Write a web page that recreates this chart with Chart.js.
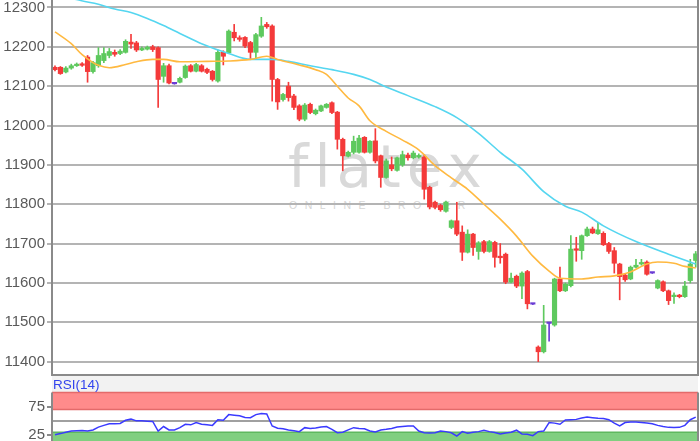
<!DOCTYPE html>
<html>
<head>
	<meta charset="utf-8">
	<script src="https://cdn.jsdelivr.net/npm/chart.js@4.4.1/dist/chart.umd.min.js"></script>
	<style>
		html, body { margin: 0; width: 700px; height: 441px; overflow: hidden; background: #fff; }
		.pane { position: absolute; left: 0; width: 700px; }
		#mainPane { top: 0; height: 377px; }
		#rsiPane { top: 376px; height: 80px; }
		#strip { position: absolute; left: 52px; top: 375px; width: 646px; height: 18px; background: #f2f2f2; }
		.wm { position: absolute; white-space: nowrap; line-height: 1; color: #d9d9d9; }
		#logo { left: 288px; top: 138px; font-family: 'DejaVu Sans'; font-size: 58px; letter-spacing: 6px; }
		#claim { left: 289px; top: 200px; font-family: 'Liberation Sans'; font-size: 10.5px; letter-spacing: 7.5px; color: #d6d6d6; }
		#rsiTitle { position: absolute; left: 53px; top: 377px; font: 13.5px 'Liberation Sans'; color: #3344ee; }
	</style>
	<title>Kursverlauf</title>
</head>

<body>
	<div id="strip"></div>
	<div class="wm" id="logo">flatex</div>
	<div class="wm" id="claim">ONLINE BROKER</div>
	<div class="pane" id="mainPane"><canvas id="mainChart"></canvas></div>
	<div class="pane" id="rsiPane"><canvas id="rsiChart"></canvas></div>
	<div id="rsiTitle">RSI(14)</div>

	<script>
		// Kerzen (Open/High/Low/Close)
		var opens = [12148, 12148, 12136, 12146, 12152, 12157, 12174, 12137, 12152, 12165, 12178, 12186, 12183, 12186, 12212, 12210, 12192, 12194, 12200, 12198,
			12125, 12152, 12106, 12110, 12122, 12152, 12138, 12152, 12143, 12138, 12113, 12186, 12185, 12237, 12223, 12224, 12211, 12186, 12227, 12257,
			12253, 12117, 12066, 12100, 12075, 12050, 12016, 12054, 12030, 12037, 12046, 12058, 12034, 11965, 11922, 11932, 11932, 11970, 11932, 11961,
			11923, 11868, 11900, 11886, 11900, 11925, 11918, 11920, 11920, 11843, 11805, 11797, 11782, 11741, 11758, 11729, 11678, 11724, 11680, 11705,
			11680, 11703, 11668, 11673, 11602, 11617, 11592, 11629, 11546, 11437, 11425, 11497, 11493, 11610, 11580, 11593, 11686, 11682, 11720, 11737,
			11725, 11726, 11700, 11682, 11648, 11620, 11610, 11640, 11648, 11653, 11625, 11587, 11603, 11580, 11565, 11569, 11565, 11606, 11657];
		var highs = [12152, 12150, 12150, 12156, 12159, 12160, 12178, 12163, 12198, 12198, 12196, 12192, 12193, 12218, 12232, 12214, 12200, 12202, 12204, 12200,
			12158, 12156, 12107, 12123, 12154, 12155, 12158, 12155, 12146, 12140, 12192, 12190, 12243, 12257, 12228, 12226, 12214, 12234, 12275, 12262,
			12256, 12120, 12082, 12110, 12079, 12053, 12056, 12057, 12042, 12052, 12056, 12060, 12036, 11968, 11935, 11973, 11975, 11972, 11962, 11992,
			11925, 11915, 11920, 11920, 11935, 11930, 11935, 11928, 11926, 11846, 11808, 11800, 11808, 11760, 11805, 11745, 11735, 11726, 11705, 11708,
			11708, 11706, 11700, 11676, 11625, 11620, 11628, 11632, 11547, 11440, 11543, 11498, 11612, 11640, 11600, 11720, 11716, 11722, 11742, 11742,
			11752, 11730, 11703, 11690, 11650, 11622, 11643, 11660, 11660, 11656, 11626, 11608, 11605, 11582, 11575, 11571, 11604, 11660, 11680];
		var lows = [12139, 12130, 12134, 12143, 12150, 12150, 12110, 12133, 12148, 12160, 12172, 12176, 12180, 12184, 12196, 12188, 12190, 12192, 12188, 12046,
			12110, 12106, 12105, 12108, 12120, 12136, 12136, 12136, 12132, 12113, 12110, 12154, 12183, 12215, 12214, 12198, 12168, 12168, 12224, 12247,
			12062, 12041, 12062, 12062, 12040, 12012, 12012, 12030, 12027, 12035, 12044, 12030, 11940, 11885, 11920, 11928, 11930, 11930, 11930, 11905,
			11843, 11866, 11885, 11884, 11896, 11912, 11915, 11917, 11813, 11788, 11788, 11782, 11780, 11738, 11720, 11657, 11676, 11670, 11660, 11676,
			11678, 11640, 11650, 11598, 11600, 11588, 11560, 11534, 11545, 11400, 11422, 11452, 11490, 11578, 11578, 11590, 11655, 11660, 11718, 11725,
			11723, 11695, 11675, 11625, 11557, 11604, 11608, 11638, 11645, 11620, 11624, 11585, 11578, 11545, 11548, 11562, 11563, 11600, 11640];
		var closes = [12142, 12132, 12146, 12152, 12156, 12153, 12137, 12160, 12178, 12183, 12188, 12181, 12189, 12214, 12207, 12192, 12196, 12199, 12193, 12117,
			12152, 12108, 12106, 12120, 12151, 12138, 12155, 12138, 12135, 12117, 12186, 12176, 12240, 12223, 12219, 12202, 12186, 12231, 12253, 12251,
			12117, 12060, 12079, 12071, 12046, 12016, 12052, 12033, 12039, 12050, 12054, 12033, 11965, 11923, 11932, 11960, 11968, 11932, 11960, 11910,
			11868, 11910, 11890, 11918, 11926, 11918, 11930, 11924, 11838, 11793, 11792, 11786, 11805, 11758, 11724, 11678, 11724, 11690, 11702, 11680,
			11705, 11665, 11664, 11602, 11612, 11592, 11625, 11547, 11546, 11425, 11493, 11497, 11610, 11580, 11597, 11686, 11683, 11720, 11737, 11727,
			11735, 11697, 11680, 11650, 11616, 11608, 11640, 11645, 11652, 11622, 11625, 11606, 11580, 11555, 11569, 11565, 11592, 11648, 11674];

		var fastIdx = [0, 3, 5, 7, 8, 10, 13, 15, 18, 20, 23, 28, 32, 36, 39, 41, 45, 48, 50, 52, 54, 56, 58, 61, 64, 67, 70, 73, 76, 79,
			82, 85, 88, 91, 93, 97, 100, 103, 106, 109, 111, 114, 116, 118];
		var fastVal = [12238, 12208, 12180, 12160, 12153, 12147, 12155, 12162, 12168, 12168, 12162, 12163, 12164, 12168, 12176, 12168, 12154, 12142, 12130, 12100,
			12070, 12050, 12012, 11985, 11963, 11938, 11898, 11867, 11838, 11800, 11762, 11719, 11668, 11630, 11612, 11610, 11615, 11618, 11628, 11648,
			11653, 11650, 11642, 11638];
		var slowIdx = [-1, 4, 8, 11, 14, 17, 20, 23, 27, 32, 36, 40, 43, 47, 51, 55, 58, 61, 65, 70, 74, 78, 82, 86, 90, 94, 97, 101, 107, 113, 118];
		var slowVal = [12345, 12320, 12308, 12296, 12287, 12272, 12254, 12234, 12208, 12183, 12168, 12168, 12163, 12152, 12142, 12130, 12117, 12098, 12076, 12048,
			12020, 11980, 11932, 11889, 11832, 11795, 11780, 11745, 11705, 11673, 11648];

		// RSI(14)
		var rsi = [25.5, 27.5, 30, 32, 32.5, 33, 32, 34, 39, 42, 45, 45, 45.5, 51, 53, 50, 50, 49.5, 49, 32,
			40, 34, 34, 38, 44, 43, 47, 44, 43, 42, 52, 51, 61, 60, 59, 56, 55.5, 61, 63, 62,
			41, 37, 36, 34, 32.5, 31, 38, 36.5, 37.5, 39, 40, 35, 29, 30, 34, 38, 36.5, 36, 32, 30.5,
			34, 35, 36.5, 39, 40, 41, 41, 32, 29, 28.5, 29, 32, 31, 29, 23, 31, 28, 30, 31, 33.5,
			31, 29.5, 27, 28.5, 30, 33.5, 27, 26.5, 23.8, 31, 32, 47, 46, 44, 51.5, 52, 52.6, 55, 56.6, 55.5,
			54.5, 54, 52, 46, 41, 47, 48, 48, 47, 46, 45, 42, 40, 38.5, 38.2, 38.5, 42, 52, 56.6];
		var rsiBandLow = [70, 0];
		var rsiBandHigh = [100, 30];
		var rsiMid = 50;

		var yTicks = [11400, 11500, 11600, 11700, 11800, 11900, 12000, 12100, 12200, 12300];
		var rsiTicks = [25, 75];

		var bandFill = ['#ff8b8b', '#80cf80'];
		var bandEdge = ['#e46a6a', '#5fb85f'];
		var tickFont = { family: "'Liberation Sans', Arial, sans-serif", size: 15 };

		var candleCol = opens.map(function (o, i) {
			if (closes[i] > o) return '#5ec95e';
			if (closes[i] < o) return '#f43a3a';
			return '#6a3cd4';
		});

		var xMin = -0.55, xMax = 118.42;

		// Rahmen um die Zeichenfläche
		var frame = {
			id: 'frame',
			afterDatasetsDraw: function (chart) {
				var a = chart.chartArea, c = chart.ctx;
				c.save();
				c.strokeStyle = '#8a8a8a';
				c.lineWidth = 2;
				c.beginPath();
				c.moveTo(a.left, a.top);
				c.lineTo(a.left, a.bottom);
				c.lineTo(a.right, a.bottom);
				c.lineTo(a.right, a.top);
				c.stroke();
				c.restore();
			}
		};

		// Über-/Unterkauft-Zonen und Mittellinie
		var bands = {
			id: 'bands',
			beforeDatasetsDraw: function (chart) {
				var y = chart.scales.y, a = chart.chartArea, c = chart.ctx;
				var mid = Math.round(y.getPixelForValue(rsiMid));
				c.save();
				c.strokeStyle = '#a0a0a0';
				c.lineWidth = 2;
				c.beginPath();
				c.moveTo(a.left, mid); c.lineTo(a.right, mid);
				c.stroke();
				for (var k = 0; k < rsiBandLow.length; k++) {
					var top = y.getPixelForValue(rsiBandHigh[k]), bot = y.getPixelForValue(rsiBandLow[k]);
					c.fillStyle = bandFill[k];
					c.fillRect(a.left, top, a.right - a.left, bot - top);
					c.strokeStyle = bandEdge[k];
					c.lineWidth = 1.5;
					c.beginPath();
					c.moveTo(a.left, top); c.lineTo(a.right, top);
					c.moveTo(a.left, bot); c.lineTo(a.right, bot);
					c.stroke();
				}
				c.restore();
			}
		};

		function yAxisFit(s) {
			s.width = 52;
			s.paddingTop = 0;
			s.paddingBottom = 0;
		}

		function plainNumber(v) { return String(v); }

		var xScale = { type: 'linear', min: xMin, max: xMax, display: false, offset: false, grid: { offset: false } };

		new Chart(document.getElementById('mainChart'), {
			type: 'bar',
			data: {
				datasets: [{
					label: 'Docht',
					data: lows.map(function (l, i) { return { x: i, y: [l, highs[i]] }; }),
					backgroundColor: candleCol,
					barThickness: 1,
					grouped: false,
					order: 3
				}, {
					label: 'Kerze',
					data: opens.map(function (o, i) { return { x: i, y: [o, closes[i]] }; }),
					backgroundColor: candleCol,
					barThickness: 4.5,
					minBarLength: 1.5,
					grouped: false,
					order: 2
				}, {
					type: 'line',
					label: 'GD kurz',
					data: fastIdx.map(function (x, k) { return { x: x, y: fastVal[k] }; }),
					borderColor: '#ffb940',
					borderWidth: 1.6,
					pointRadius: 0,
					cubicInterpolationMode: 'monotone',
					order: 1
				}, {
					type: 'line',
					label: 'GD lang',
					data: slowIdx.map(function (x, k) { return { x: x, y: slowVal[k] }; }),
					borderColor: '#55d6f0',
					borderWidth: 1.6,
					pointRadius: 0,
					cubicInterpolationMode: 'monotone',
					order: 1
				}]
			},
			options: {
				responsive: true,
				maintainAspectRatio: false,
				animation: false,
				layout: { padding: { left: 0, right: 2, top: 0, bottom: 2 } },
				plugins: { legend: { display: false }, tooltip: { enabled: false } },
				scales: {
					x: xScale,
					y: {
						min: 11366, max: 12319,
						beginAtZero: false,
						afterBuildTicks: function (s) { s.ticks = yTicks.map(function (v) { return { value: v }; }); },
						afterFit: yAxisFit,
						border: { display: false },
						grid: { color: '#b4b4b4', lineWidth: 2, tickLength: 5 },
						ticks: { color: '#5a5a5a', font: tickFont, padding: 2, callback: plainNumber }
					}
				}
			},
			plugins: [frame]
		});

		new Chart(document.getElementById('rsiChart'), {
			type: 'line',
			data: {
				datasets: [{
					label: 'RSI(14)',
					data: rsi.map(function (v, i) { return { x: i, y: v }; }),
					borderColor: '#3a3aff',
					borderWidth: 1.5,
					pointRadius: 0
				}]
			},
			options: {
				responsive: true,
				maintainAspectRatio: false,
				animation: false,
				layout: { padding: { left: 0, right: 2, top: 16.5, bottom: 6.8 } },
				plugins: { legend: { display: false }, tooltip: { enabled: false } },
				scales: {
					x: xScale,
					y: {
						min: 0, max: 100,
						afterBuildTicks: function (s) { s.ticks = rsiTicks.map(function (v) { return { value: v }; }); },
						afterFit: yAxisFit,
						border: { display: false },
						grid: { drawOnChartArea: false, tickLength: 5, tickColor: '#8a8a8a', lineWidth: 2 },
						ticks: { color: '#5a5a5a', font: tickFont, padding: 2, callback: plainNumber }
					}
				}
			},
			plugins: [bands, frame]
		});
	</script>
</body>

</html>
